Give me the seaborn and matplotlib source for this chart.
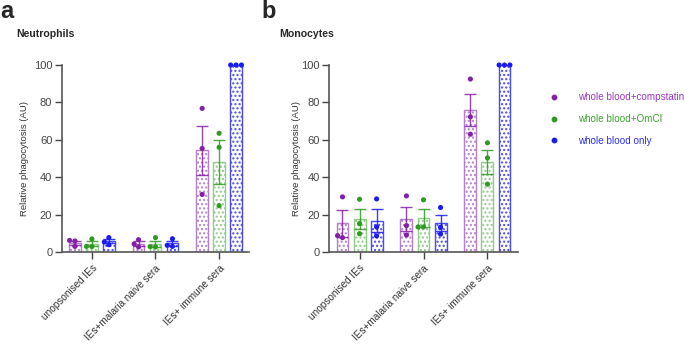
import numpy as np
import pandas as pd
import matplotlib.pyplot as plt
import seaborn as sns
from matplotlib.lines import Line2D

sns.set_style('ticks')
plt.rcParams['font.family'] = ['Liberation Sans', 'DejaVu Sans']

# gruppi e condizioni
groups = ['unopsonised IEs', 'IEs+malaria naive sera', 'IEs+ immune sera']
conditions = ['whole blood+compstatin', 'whole blood+OmCI', 'whole blood only']
colori = ['#8420a8', '#2f9a22', '#1a1af2']
colori_bordo = ['#b57fcc', '#8fcc86', '#4a4af5']
colori_testo = ['#9a36c2', '#3aa52c', '#2a2af0']

# valori (3 donatori per barra)
neutro_compstatin = [[6.2, 3.0, 5.9], [6.6, 2.7, 4.3], [76.8, 55.4, 30.8]]
neutro_omci = [[7.0, 2.9, 3.0], [7.7, 2.7, 2.9], [63.5, 56.0, 24.8]]
neutro_only = [[7.7, 3.9, 5.4], [7.1, 3.0, 3.6], [100, 100, 100]]

mono_compstatin = [[29.5, 7.7, 8.8], [30.0, 14.1, 9.1], [92.5, 72.3, 63.0]]
mono_omci = [[28.2, 15.2, 9.8], [27.9, 13.4, 13.4], [58.4, 50.3, 36.3]]
mono_only = [[28.4, 13.4, 8.6], [23.8, 13.2, 9.6], [100, 100, 100]]


def to_df(series):
    rows = []
    for cond, vals in zip(conditions, series):
        for g, pts in zip(groups, vals):
            for v in pts:
                rows.append({'group': g, 'cond': cond, 'value': v})
    return pd.DataFrame(rows)


df_neutro = to_df([neutro_compstatin, neutro_omci, neutro_only])
df_mono = to_df([mono_compstatin, mono_omci, mono_only])

fig = plt.figure(figsize=(6.85, 3.44), dpi=100)
ax_a = fig.add_axes([0.0905, 0.2674, 0.273, 0.5436])
ax_b = fig.add_axes([0.481, 0.2674, 0.2745, 0.5436])


def pannello(ax, df, lab_x):
    sns.barplot(data=df, x='group', y='value', hue='cond', order=groups, hue_order=conditions,
                palette=colori, errorbar=None, gap=0.3, legend=False, ax=ax, zorder=2)
    for cont, eb in zip(ax.containers, colori_bordo):
        for bar in cont:
            bar.set_facecolor('white')
            bar.set_edgecolor(eb)
            bar.set_linewidth(1.0)
            bar.set_hatch('....')
    # media +/- SEM
    stats = df.groupby(['cond', 'group'])['value'].agg(['mean', 'sem'])
    offs = (np.arange(3) - 1) * 0.8 / 3
    for k, cond in enumerate(conditions):
        for i, g in enumerate(groups):
            m, s = stats.loc[(cond, g)]
            if s > 0:
                ax.errorbar(i + offs[k], m, yerr=s, ecolor=colori[k], elinewidth=1,
                            capsize=4, capthick=1, zorder=3, fmt='none', alpha=0.85)
    sns.swarmplot(data=df, x='group', y='value', hue='cond', order=groups, hue_order=conditions,
                  palette=colori, dodge=True, size=3.7, legend=False, ax=ax, zorder=4)
    for c in ax.collections:
        c.set_clip_on(False)
    ax.set_xlim(-0.47, 2.47)
    ax.set_ylim(0, 100)
    ax.set_yticks([0, 20, 40, 60, 80, 100])
    ax.set_xlabel('')
    ax.set_ylabel('Relative phagocytosis (AU)', fontsize=6.8, color='#333333')
    ax.yaxis.set_label_coords(lab_x, 0.5)
    ax.tick_params(axis='y', labelsize=8, colors='#444444', length=5, width=1, pad=2)
    ax.tick_params(axis='x', labelsize=7.2, colors='#444444', length=5, width=1, pad=3)
    ax.set_xticks(range(3))
    ax.set_xticklabels(groups, rotation=45, ha='right', rotation_mode='anchor', color='#333333')
    for sp in ['left', 'bottom']:
        ax.spines[sp].set_color('#555555')
        ax.spines[sp].set_linewidth(1.2)
    sns.despine(ax=ax)


pannello(ax_a, df_neutro, -0.176)
pannello(ax_b, df_mono, -0.152)

fig.text(0.0, 1.0, 'a', fontsize=17, fontweight='bold', va='top')
fig.text(0.381, 1.0, 'b', fontsize=17, fontweight='bold', va='top')
fig.text(0.024, 0.9, 'Neutrophils', fontsize=7.6, fontweight='bold', va='center')
fig.text(0.408, 0.9, 'Monocytes', fontsize=7.6, fontweight='bold', va='center')

handles = [Line2D([], [], marker='o', ls='none', color=c, markersize=3.2) for c in colori]
leg = fig.legend(handles, conditions, loc='upper left', bbox_to_anchor=(0.789, 0.757), frameon=False,
                 fontsize=7.1, handletextpad=1.9, labelspacing=1.18, handlelength=1.0)
for t, c in zip(leg.get_texts(), colori_testo):
    t.set_color(c)

fig.savefig('out.png', dpi=100)
